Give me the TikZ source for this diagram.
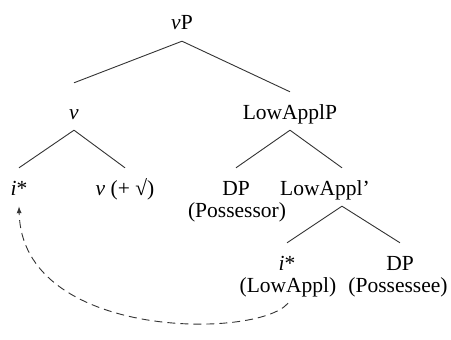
\documentclass[tikz,border=0pt]{standalone}
\usepackage{fontspec}
\setmainfont{Liberation Serif}
\usetikzlibrary{arrows.meta}

\begin{document}
\begin{tikzpicture}[
    x=1pt, y=-1pt,
    font=\fontsize{21.5}{24}\selectfont,
    phrase/.style={anchor=base, inner xsep=2pt, inner ysep=7pt, text height=20pt, text depth=4pt},
    branch/.style={line width=0.9pt, black!80},
    move/.style={
        line width=0.9pt,
        black!80,
        dash pattern=on 8pt off 5pt,
        -{Latex[length=7pt, width=5pt]}
    }
]
\useasboundingbox (0,0) rectangle (451,340);

% ==================== TOP ====================
\node[phrase] (vP) at (182,30) {\textit{v}P};
\node[phrase] (v) at (74,119) {\textit{v}};
\node[phrase] (LowApplP) at (290,119) {LowApplP};

\draw[branch] (vP.south) -- ([yshift=9pt]v.north);
\draw[branch] (vP.south) -- (LowApplP.north);

% ==================== v BRANCH ====================
\node[phrase] (iHigh) at (19,195) {\textit{i}*};
\node[phrase] (vRoot) at (125,195) {\textit{v} (+ √)};

\draw[branch] (v.south) -- (iHigh.north);
\draw[branch] (v.south) -- (vRoot.north);

% ==================== LowApplP BRANCH ====================
\node[phrase] (DPposr) at (236,195) {DP};
\node[phrase] (posr) at (237,217) {(Possessor)};
\node[phrase] (LowApplBar) at (325,195) {LowAppl’};

\draw[branch] (LowApplP.south) -- (DPposr.north);
\draw[branch] (LowApplP.south) -- ([xshift=17pt]LowApplBar.north);

% Lower layer
\node[phrase] (iLow) at (287,270) {\textit{i}*};
\node[phrase] (lowAppl) at (288,292) {(LowAppl)};
\node[phrase] (DPpose) at (400,270) {DP};
\node[phrase] (pose) at (398,292) {(Possessee)};

\draw[branch] ([xshift=17pt]LowApplBar.south) -- (iLow.north);
\draw[branch] ([xshift=17pt]LowApplBar.south) -- (DPpose.north);

% Movement of i* up to v
\draw[move] (lowAppl.south) .. controls +(-30,36) and +(3,134) .. (iHigh.south);

\end{tikzpicture}
\end{document}
